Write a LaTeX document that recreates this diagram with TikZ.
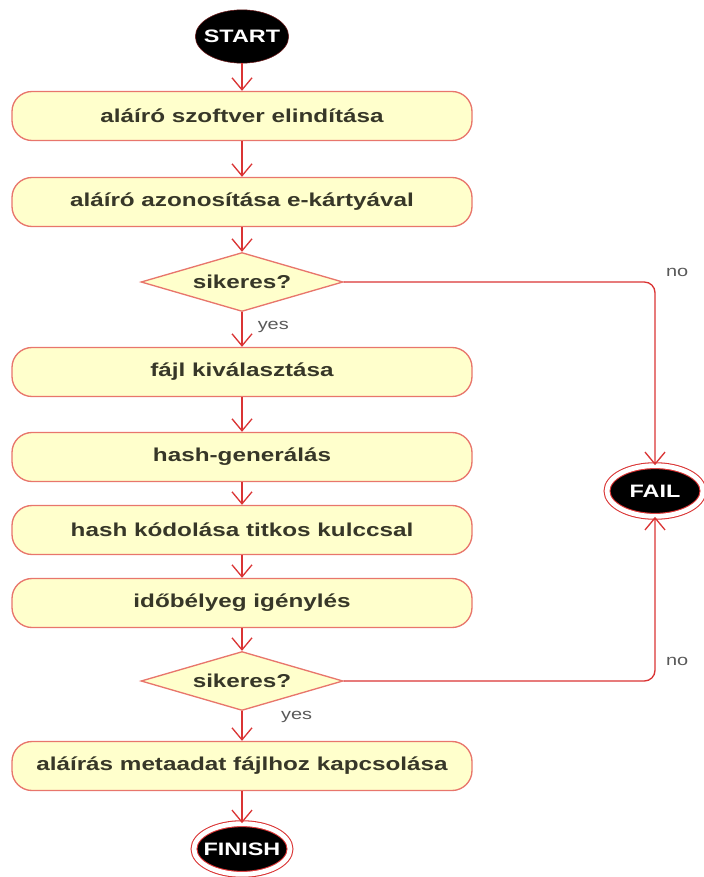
\documentclass[tikz,border=0pt]{standalone}
\usepackage{fontspec}
\setmainfont{Liberation Sans}[FakeStretch=1.3]
\usetikzlibrary{shapes,arrows.meta}
\definecolor{edge}{RGB}{218,52,52}
\definecolor{rim}{RGB}{232,118,108}
\definecolor{cream}{RGB}{255,255,204}
\definecolor{ink}{RGB}{55,55,40}
\tikzset{
        act/.style={draw=rim, fill=cream, line width=1pt, rounded corners=15pt, minimum width=345pt, minimum height=36.75pt, text=ink, font=\fontsize{14}{16}\selectfont\bfseries},
        choice/.style={draw=rim, fill=cream, line width=1pt, diamond, aspect=3.5, inner sep=0pt, minimum width=151.5pt, minimum height=44.25pt, text=ink, font=\fontsize{14}{16}\selectfont\bfseries},
        init/.style={ellipse, fill=black, draw=edge!50!black, inner xsep=-8pt, inner ysep=0pt, minimum width=70pt, minimum height=40pt, text=white, font=\fontsize{13.5}{15}\selectfont\bfseries},
        stop/.style={ellipse, fill=black, draw=edge, double=white, double distance=3.6pt, line width=0.8pt, inner xsep=-8pt, inner ysep=0pt, minimum width=72pt, minimum height=38pt, text=white, font=\fontsize{13.5}{15}\selectfont\bfseries},
        flow/.style={draw=edge, line width=1pt, -{Straight Barb[length=9pt,width=15pt]}},
        tag/.style={text=black!65, font=\fontsize{11.5}{13}\selectfont}
    }

\begin{document}
\begin{tikzpicture}[x=0.75pt, y=-0.75pt]
            \useasboundingbox (0,0) rectangle (703,877);

            \node [init] (start) at (242, 36.5) {START};
            \node [act] (run) at (242, 116) {aláíró szoftver elindítása};
            \node [act] (auth) at (242, 202) {aláíró azonosítása e-kártyával};
            \node [choice] (ok1) at (242, 282) {sikeres?};
            \node [act] (pick) at (242, 372) {fájl kiválasztása};
            \node [act] (hash) at (242, 457) {hash-generálás};
            \node [act] (enc) at (242, 530) {hash kódolása titkos kulccsal};
            \node [act] (stamp) at (242, 603) {időbélyeg igénylés};
            \node [choice] (ok2) at (242, 681) {sikeres?};
            \node [act] (attach) at (242, 766) {aláírás metaadat fájlhoz kapcsolása};
            \node [stop] (finish) at (242, 849) {FINISH};
            \node [stop] (fail) at (655, 491) {FAIL};

            \draw [flow] (start) -- (run);
            \draw [flow] (run) -- (auth);
            \draw [flow] (auth) -- (ok1);
            \draw [flow] (ok1) -- node [tag, right, pos=0.42, xshift=8pt] {yes} (pick);
            \draw [flow, rounded corners=8pt] (ok1) -| node [tag, above right, pos=0.5, xshift=4.5pt] {no} (fail);
            \draw [flow] (pick) -- (hash);
            \draw [flow] (hash) -- (enc);
            \draw [flow] (enc) -- (stamp);
            \draw [flow] (stamp) -- (ok2);
            \draw [flow] (ok2) -- node [tag, right, pos=0.2, xshift=25.5pt] {yes} (attach);
            \draw [flow, rounded corners=8pt] (ok2) -| node [tag, above right, pos=0.5, xshift=4.5pt, yshift=8pt] {no} (fail);
            \draw [flow] (attach) -- (finish);
        \end{tikzpicture}
\end{document}
